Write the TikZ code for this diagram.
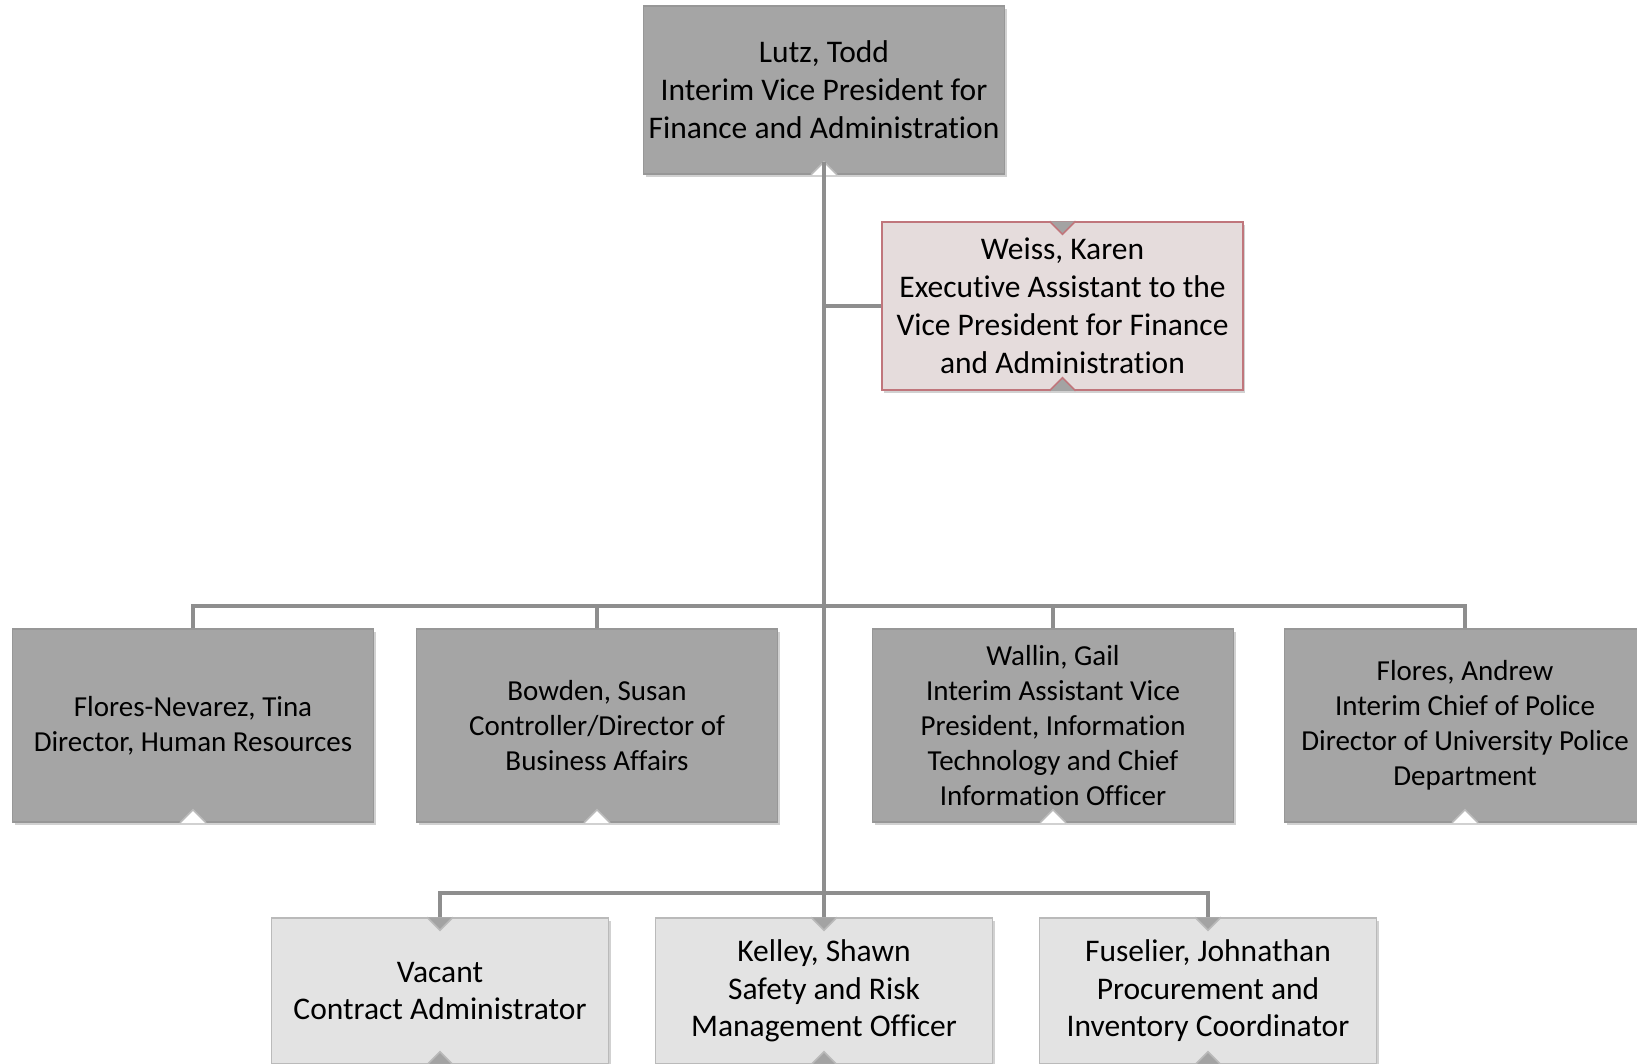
\documentclass[tikz,border=0pt]{standalone}
\usepackage{fontspec}
\setmainfont{Carlito}[Ligatures={NoCommon}]
\usetikzlibrary{shadows}
\definecolor{darkbox}{HTML}{A5A5A5}
\definecolor{darkedge}{HTML}{979797}
\definecolor{lightbox}{HTML}{E3E3E3}
\definecolor{lightedge}{HTML}{BABABA}
\definecolor{pinkbox}{HTML}{E5DCDC}
\definecolor{pinkedge}{HTML}{C0767C}
\definecolor{conn}{HTML}{8E8E8E}
\definecolor{markgray}{HTML}{A3A3A3}
\newcommand\upmark[3]{%
  \fill[#2] ([xshift=-13pt]#1.south) -- ([yshift=13pt]#1.south) -- ([xshift=13pt]#1.south) -- cycle;
  \draw[#3, line width=1.5pt] ([xshift=-13pt]#1.south) -- ([yshift=13pt]#1.south) -- ([xshift=13pt]#1.south);}
\newcommand\downmark[3]{%
  \fill[#2] ([xshift=-13pt]#1.north) -- ([yshift=-13pt]#1.north) -- ([xshift=13pt]#1.north) -- cycle;
  \draw[#3, line width=1.5pt] ([xshift=-13pt]#1.north) -- ([yshift=-13pt]#1.north) -- ([xshift=13pt]#1.north);}
\tikzset{
  box/.style={rectangle, inner sep=0pt, align=center, line width=1.5pt,
    drop shadow={shadow xshift=2pt, shadow yshift=-3pt, opacity=0.18, fill=black}},
  topbox/.style={box, fill=darkbox, draw=darkedge, minimum width=361pt, minimum height=168pt,
    font=\fontsize{31.5}{38}\selectfont},
  pinkbox/.style={box, fill=pinkbox, draw=pinkedge, minimum width=361pt, minimum height=168pt,
    font=\fontsize{31.5}{38}\selectfont},
  darkrow/.style={box, fill=darkbox, draw=darkedge, minimum width=361pt, minimum height=193pt,
    font=\fontsize{29}{35}\selectfont},
  lightrow/.style={box, fill=lightbox, draw=lightedge, minimum width=337pt, minimum height=146pt,
    font=\fontsize{31.5}{37.5}\selectfont},
  connector/.style={draw=conn, line width=4pt},
}
\begin{document}
\begin{tikzpicture}[x=1pt, y=-1pt]
\useasboundingbox (0,0) rectangle (1637,1063);
\clip (0,0) rectangle (1637,1063);
\fill[white] (0,0) rectangle (1637,1063);

% boxes
\node[topbox] (top) at (824,90) {Lutz, Todd\\Interim Vice President for\\Finance and Administration};
\node[pinkbox] (weiss) at (1062.5,306) {Weiss, Karen\\Executive Assistant to the\\Vice President for Finance\\and Administration};
\node[darkrow] (r1a) at (193,725.5) {Flores-Nevarez, Tina\\Director, Human Resources};
\node[darkrow] (r1b) at (597,725.5) {Bowden, Susan\\Controller/Director of\\Business Affairs};
\node[darkrow] (r1c) at (1053,725.5) {Wallin, Gail\\Interim Assistant Vice\\President, Information\\Technology and Chief\\Information Officer};
\node[darkrow] (r1d) at (1465,725.5) {Flores, Andrew\\Interim Chief of Police\\Director of University Police\\Department};
\node[lightrow] (r2a) at (440,991) {Vacant\\Contract Administrator};
\node[lightrow] (r2b) at (824,991) {Kelley, Shawn\\Safety and Risk\\Management Officer};
\node[lightrow] (r2c) at (1208,991) {Fuselier, Johnathan\\Procurement and\\Inventory Coordinator};

% bottom markers
\upmark{top}{white}{lightedge}
\upmark{r1a}{white}{lightedge}
\upmark{r1b}{white}{lightedge}
\upmark{r1c}{white}{lightedge}
\upmark{r1d}{white}{lightedge}
\upmark{weiss}{markgray}{pinkedge}
\upmark{r2a}{markgray}{lightedge}
\upmark{r2b}{markgray}{lightedge}
\upmark{r2c}{markgray}{lightedge}
\downmark{weiss}{markgray}{pinkedge}

% connectors
\coordinate (bus1) at (824,606);
\coordinate (bus2) at (824,893);
\draw[connector] ([yshift=13pt]top.south) -- (r2b.north);
\draw[connector] (top.south |- weiss.west) -- (weiss.west);
\draw[connector] (r1a.north) -- (r1a.north |- bus1) -- (r1d.north |- bus1) -- (r1d.north);
\draw[connector] (r1b.north |- bus1) -- (r1b.north);
\draw[connector] (r1c.north |- bus1) -- (r1c.north);
\draw[connector] (r2a.north) -- (r2a.north |- bus2) -- (r2c.north |- bus2) -- (r2c.north);

% arrow heads into lower boxes
\downmark{r2a}{markgray}{lightedge}
\downmark{r2b}{markgray}{lightedge}
\downmark{r2c}{markgray}{lightedge}
\end{tikzpicture}
\end{document}
